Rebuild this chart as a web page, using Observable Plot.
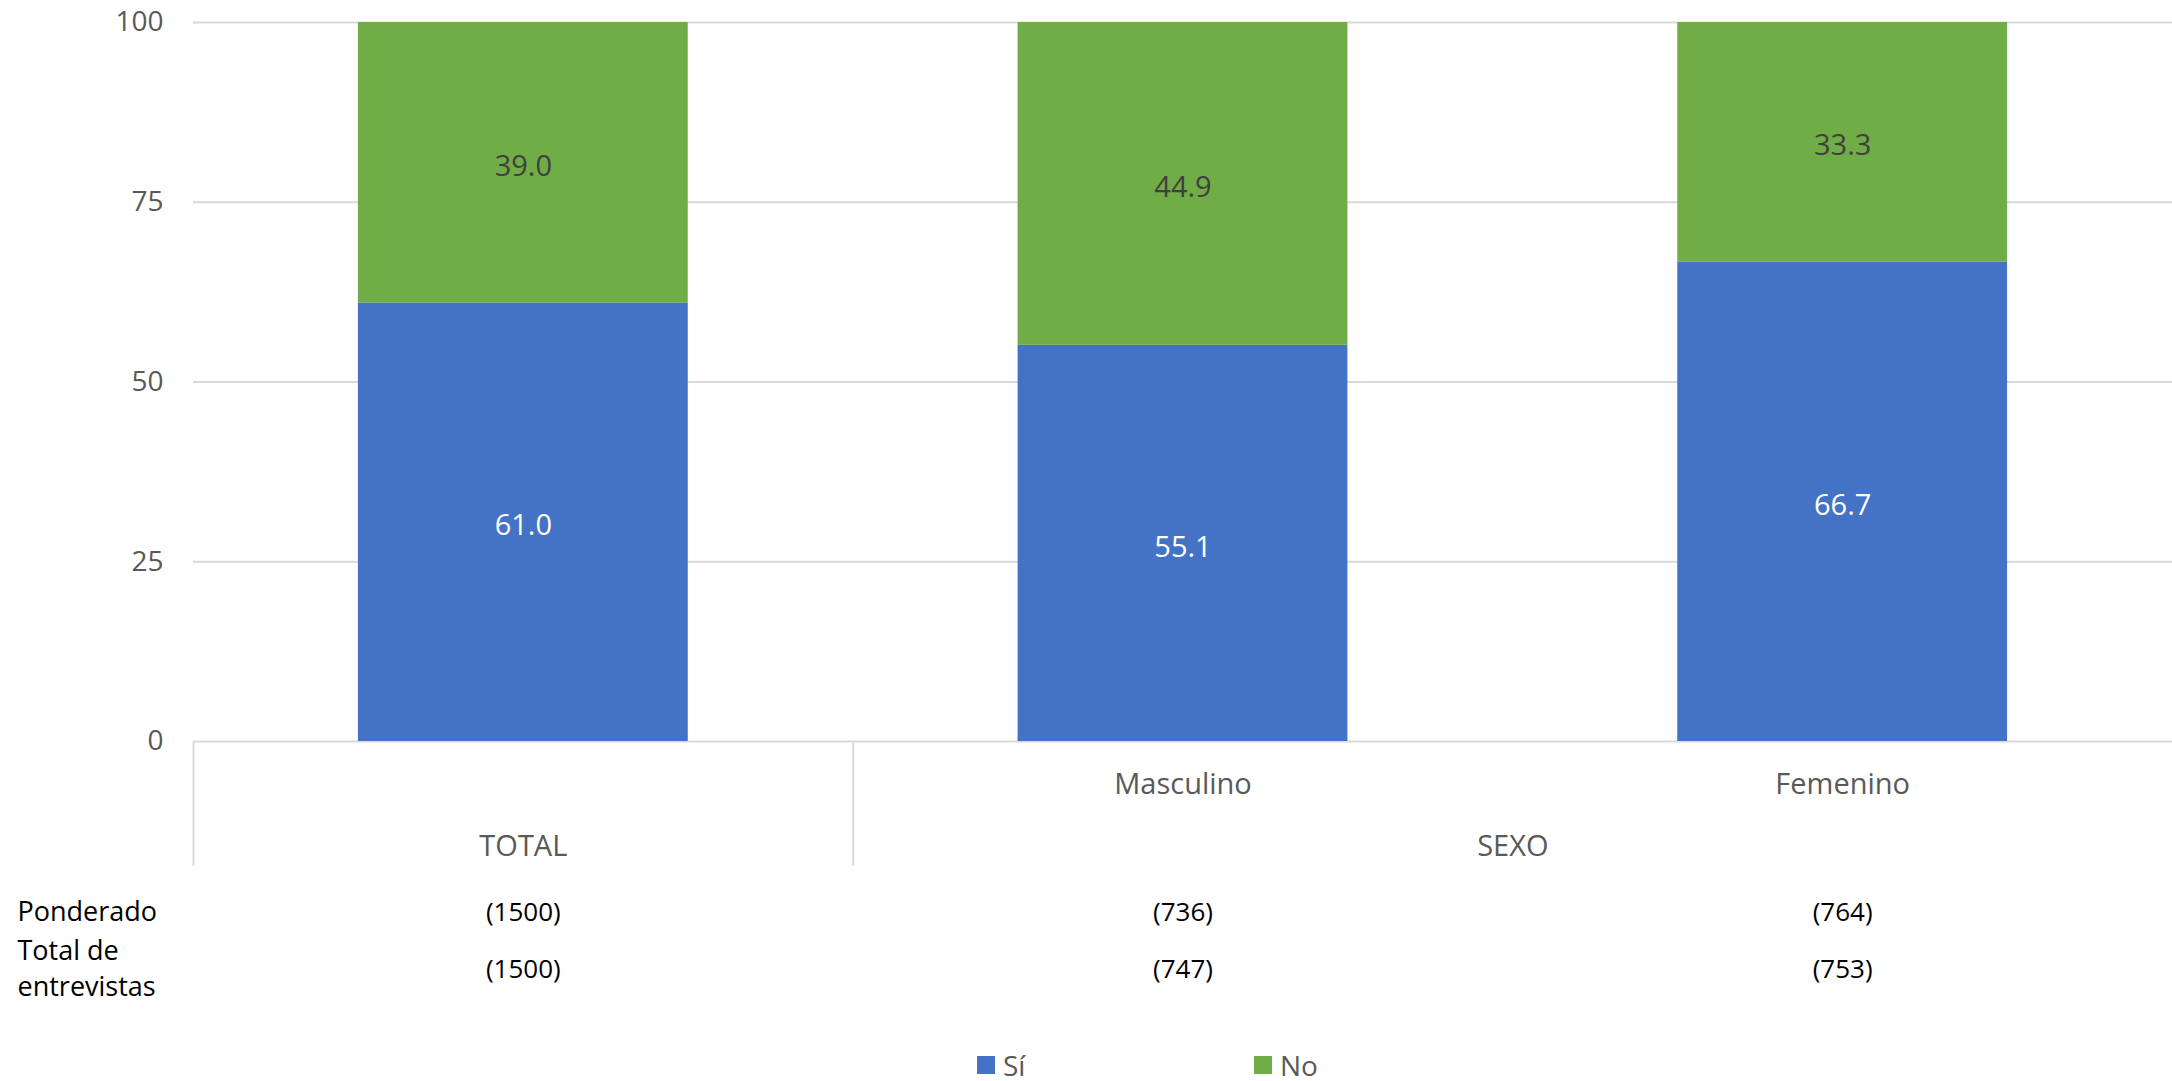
<!DOCTYPE html>
<html><head><meta charset="utf-8">
<script src="https://cdn.jsdelivr.net/npm/d3@7"></script>
<script src="https://cdn.jsdelivr.net/npm/@observablehq/plot@0.6"></script>
<style>
html,body{margin:0;padding:0;background:#fff;}
#chart{position:relative;width:2172px;height:1081px;font-family:"Open Sans",sans-serif;}
#chart svg{display:block;}
#legend{position:absolute;left:977px;top:1050px;height:30px;display:flex;align-items:center;font-size:28px;color:#595959;font-family:"Open Sans",sans-serif;}
.item{display:flex;align-items:center;width:277px;}
.sw{width:18px;height:18px;margin-right:8px;}
</style></head><body><div id="chart"></div>
<script>
const categories = ["TOTAL", "Masculino", "Femenino"];
const subLabels = ["", "Masculino", "Femenino"];
const groups = ["TOTAL", "SEXO", "SEXO"];
const series = ["Sí", "No"];
const siValues = [61.0, 55.1, 66.7];
const noValues = [39.0, 44.9, 33.3];
const ponderado = ["(1500)", "(736)", "(764)"];
const entrevistas = ["(1500)", "(747)", "(753)"];
const yTicks = [0, 25, 50, 75, 100];
const rowLabels = ["Ponderado", "Total de\nentrevistas"];
const colors = ["#4472C4", "#70AD47"];
const labelColors = ["#ffffff", "#404040"];

const seriesValues = [siValues, noValues];
const rows = [];
categories.forEach((c, i) => {
  let base = 0;
  seriesValues.forEach((vals, s) => {
    rows.push({i, cat: c, serie: series[s], value: vals[i], y1: base, y2: base + vals[i]});
    base += vals[i];
  });
});
const cols = categories.map((c, i) => ({i, sub: subLabels[i], pond: ponderado[i], entr: entrevistas[i]}));
const groupNames = [...new Set(groups)];
const groupLabels = groupNames.map(g => {
  const idx = groups.map((x, i) => x === g ? i : null).filter(v => v !== null);
  return {g, x: d3.mean(idx)};
});
const boundaries = groups.map((g, i) => (i === 0 || g !== groups[i - 1]) ? i - 0.5 : null).filter(v => v !== null);
const row2Lines = rowLabels[1].split("\n");

const W = 2172, H = 1040, mT = 22, mB = 299, mL = 193;
const plotH = H - mT - mB;
const half = 0.25;

const chart = Plot.plot({
  width: W, height: H,
  marginTop: mT, marginBottom: mB, marginLeft: mL, marginRight: 0,
  style: {fontSize: "28px", fontFamily: "'Open Sans', sans-serif", color: "#595959", background: "#fff"},
  x: {domain: [-0.5, categories.length - 0.5], axis: null},
  y: {domain: [0, 100], ticks: yTicks, tickSize: 0, tickPadding: 30, label: null},
  color: {domain: series, range: colors},
  marks: [
    Plot.ruleY(yTicks, {y: d => d, stroke: "#d9d9d9", strokeWidth: 2}),
    Plot.ruleX(boundaries, {x: d => d, stroke: "#d9d9d9", strokeWidth: 2, insetTop: plotH, insetBottom: -125}),
    Plot.rectY(rows, {x1: d => d.i - half, x2: d => d.i + half, y1: "y1", y2: "y2", fill: "serie"}),
    Plot.text(rows, {x: "i", y: d => (d.y1 + d.y2) / 2, dy: 4, text: d => d.value.toFixed(1),
      fill: d => labelColors[series.indexOf(d.serie)], fontSize: 29}),
    Plot.text(cols, {x: "i", frameAnchor: "bottom", dy: 52, text: "sub", fill: "#595959", fontSize: 29}),
    Plot.text(groupLabels, {x: "x", frameAnchor: "bottom", dy: 114, text: "g", fill: "#595959", fontSize: 29}),
    Plot.text(cols, {x: "i", frameAnchor: "bottom", dy: 179, text: "pond", fill: "#000", fontSize: 26}),
    Plot.text(cols, {x: "i", frameAnchor: "bottom", dy: 236, text: "entr", fill: "#000", fontSize: 26}),
    Plot.text([rowLabels[0]], {text: d => d, frameAnchor: "bottom-left", dx: -176, dy: 179, textAnchor: "start", fill: "#000", fontSize: 27}),
    Plot.text([row2Lines[0]], {text: d => d, frameAnchor: "bottom-left", dx: -176, dy: 218, textAnchor: "start", fill: "#000", fontSize: 27}),
    Plot.text([row2Lines[1]], {text: d => d, frameAnchor: "bottom-left", dx: -176, dy: 254, textAnchor: "start", fill: "#000", fontSize: 27})
  ]
});
const root = document.getElementById("chart");
root.appendChild(chart);
const legend = document.createElement("div");
legend.id = "legend";
series.forEach((s, k) => {
  const it = document.createElement("div");
  it.className = "item";
  const sw = document.createElement("span");
  sw.className = "sw";
  sw.style.background = colors[k];
  const t = document.createElement("span");
  t.textContent = s;
  it.appendChild(sw); it.appendChild(t);
  legend.appendChild(it);
});
root.appendChild(legend);
</script></body></html>
